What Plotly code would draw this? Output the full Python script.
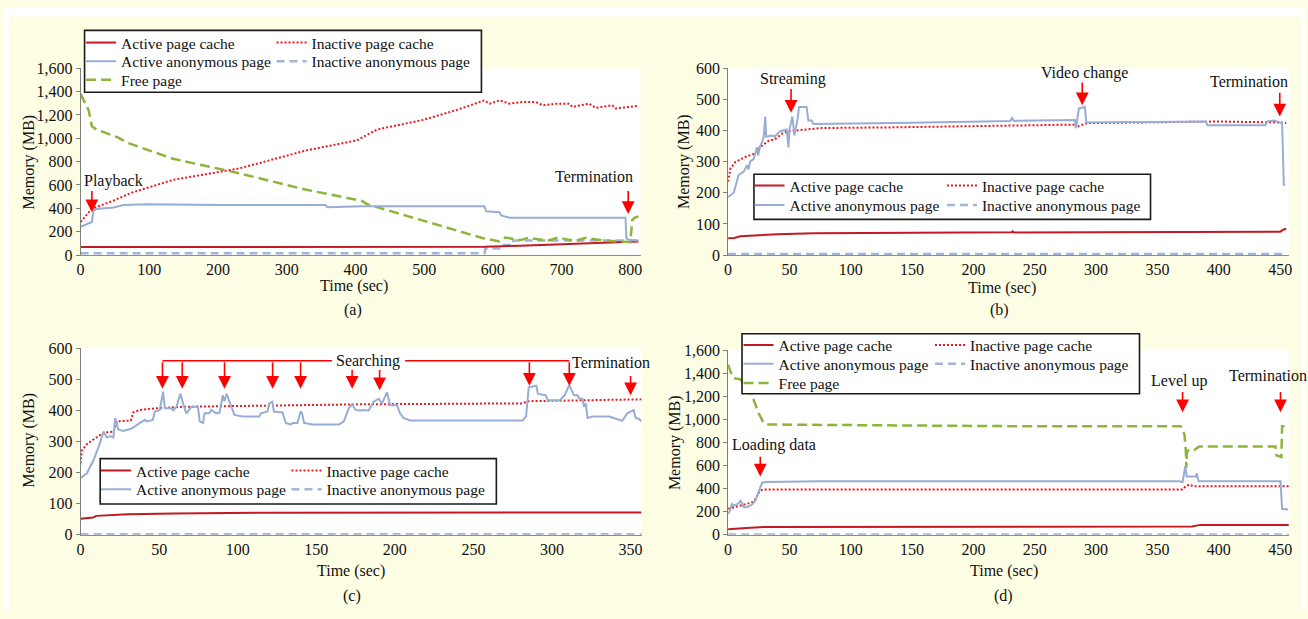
import plotly.graph_objects as go

W, H = 1308, 619
FONT = "Liberation Serif"
TXT = "#111111"

# ---------------- data (time in sec, memory in MB) ----------------
# panel (a) video playback
a_apc_t = [0, 588, 640, 700, 750, 800, 812]
a_apc_v = [69, 70, 80, 94, 103, 115, 115]
a_ipc_t = [0, 15.9, 47.8, 73.8, 134.6, 231.1, 327, 402.3, 431.3, 498.8, 547, 587.6, 595.2, 609.7,
           624.2, 643.6, 662.8, 672.5, 691.7, 711, 715.9, 740, 749.6, 773.8, 778.6, 812.3]
a_ipc_v = [283, 394, 466, 533, 644, 742, 894, 983, 1075, 1158, 1242, 1325, 1297, 1325,
           1297, 1311, 1311, 1283, 1297, 1297, 1269, 1297, 1261, 1283, 1256, 1278]
a_aap_t = [0, 11.6, 16.4, 18.8, 23, 48, 62.2, 96, 202, 356.4, 359, 409.6, 587.6, 590.4, 609.7,
           612, 624.2, 793, 794.5, 800, 812]
a_aap_v = [242, 269, 283, 381, 394, 408, 428, 436, 428, 428, 410, 417, 417, 375, 367,
           339, 320, 320, 140, 125, 125]
a_iap_t = [0, 588, 589, 612, 613, 629, 630, 812]
a_iap_v = [15, 15, 55, 55, 85, 85, 125, 125]
a_free_t = [0, 11.6, 16.4, 23.2, 55, 67, 134.6, 231.1, 327, 402.3, 409.6, 416.8, 498.8, 547,
            585.7, 609.7, 618, 640, 652, 680, 695, 720, 735, 760, 790, 800, 803, 806, 812]
a_free_v = [1381, 1242, 1103, 1075, 1006, 964, 825, 700, 561, 478, 464, 436, 297, 214,
            144, 117, 150, 128, 148, 122, 150, 120, 148, 125, 118, 110, 300, 318, 331]

# panel (b) video streaming
b_apc_t = [0, 5, 10, 20, 40, 70, 150, 231, 232, 233, 300, 400, 450, 453, 455]
b_apc_v = [54, 55, 60, 63, 67, 70, 72, 73, 76, 72, 73, 74, 75, 82, 85]
b_ipc_t = [0, 1.9, 5.9, 14, 20.8, 27.6, 33, 38, 44, 49, 55, 76, 130, 230, 282.7, 284, 286,
           293, 350, 400, 450, 455]
b_ipc_v = [236, 278, 299, 315, 325, 351, 367, 372, 390, 398, 400, 408, 410, 416, 419, 408, 415,
           424, 427, 429, 426, 424]
b_aap_t = [0, 4.6, 8.6, 12.7, 15.4, 16.5, 18, 20.8, 22.5, 23.5, 24.5, 26, 27.6, 29, 30.3, 31,
           35.7, 38, 42.4, 47.8, 49.2, 50, 52.4, 54, 56.8, 57.8, 64, 65.4, 68, 69.5, 150, 230,
           231.5, 233, 282.7, 283.5, 286, 290.8, 292, 389.5, 390.8, 438, 439.5, 444.9, 450,
           451.6, 453, 454.3]
b_aap_v = [186, 200, 257, 268, 289, 275, 300, 309, 330, 346, 320, 350, 361, 380, 445, 380,
           384, 381, 398, 403, 346, 403, 445, 384, 440, 476, 476, 432, 432, 421, 425, 431,
           440, 431, 434, 408, 471, 476, 426, 429, 417, 417, 429, 432, 426,
           424, 226, 226]
b_iap_t = [0, 25, 27, 455]
b_iap_v = [3, 5, 3, 3]

# panel (c) searching
c_apc_t = [0, 8, 10, 30, 60, 120, 357]
c_apc_v = [52, 56, 61, 66, 69, 71, 72]
c_ipc_t = [0, 0.8, 4, 11.4, 14.6, 21, 23, 32, 33.5, 37.8, 47.3, 65, 120, 179, 281, 285, 357]
c_ipc_v = [230, 271, 292, 318, 329, 332, 365, 368, 394, 402, 407, 412, 416, 420, 423, 430, 436]
c_aap_t = [0, 4, 8.2, 11.4, 14.6, 16.7, 18.8, 20.9, 22, 24, 27.2, 32.5, 37.8, 41, 42, 46, 47.3,
           50.4, 52.5, 53.6, 57.8, 59, 61, 63.5, 65.2, 67.3, 70.5, 74.7, 75.8, 77.9, 78.9, 82,
           83.1, 86.3, 88.4, 89.4, 90.5, 91.5, 93, 94.6, 97.9, 103, 113.7, 114.8, 119, 120, 122,
           123, 128.5, 130.6, 133.7, 135, 138, 140, 141, 142.2, 147.5, 164.4, 167.5, 170.7,
           172.8, 175, 178, 180, 183.3, 186.5, 189.7, 191.8, 195, 197, 201.3, 203.3, 205.5,
           209.7, 239, 281.4, 283.5, 285.2, 290, 291, 296, 297.3, 305, 308, 311, 314, 316.2,
           317.5, 319.4, 320.4, 321.5, 322.6, 325.7, 336.3, 344.7, 347.9, 352, 353.2, 355.3, 357]
c_aap_v = [183, 198, 240, 282, 332, 313, 318, 313, 376, 339, 334, 342, 360, 370, 365, 370, 397,
           402, 461, 407, 407, 400, 412, 454, 423, 391, 412, 412, 365, 360, 391, 391,
           402, 391, 393, 423, 449, 430, 454, 430, 386, 381, 381, 391, 397, 423, 428,
           397, 394, 360, 355, 360, 360, 397, 391, 360, 355, 355, 365, 407,
           420, 402, 400, 402, 400, 428, 438, 423, 459, 417, 417, 391, 376,
           368, 368, 368, 381, 475, 480, 454, 449, 433, 433, 449, 482, 449, 449,
           438, 438, 412, 423, 376, 381, 381, 367, 391, 402, 376, 373, 365]
c_iap_t = [0, 357]
c_iap_v = [2, 2]

# panel (d) game
d_apc_t = [0, 10, 15, 30, 100, 378, 385, 457]
d_apc_v = [48, 52, 60, 68, 70, 72, 86, 86]
d_ipc_t = [0, 5, 10, 19.5, 22.2, 26.2, 29, 370.5, 373, 376, 379, 384, 457]
d_ipc_v = [225, 239, 253, 281, 309, 385, 393, 393, 421, 435, 421, 421, 421]
d_aap_t = [0, 1, 3.2, 4.6, 8.6, 10, 11, 12.7, 15.4, 19.5, 22.2, 24.9, 27.6, 30.3, 76, 368,
           370.5, 372.7, 373.8, 381.4, 382, 383.5, 447.6, 450.3, 451.6, 456.5]
d_aap_v = [183, 197, 267, 253, 273, 295, 281, 239, 239, 262, 295, 379, 450, 458, 464, 464,
           455, 595, 505, 505, 533, 464, 464, 464, 225, 219]
d_iap_t = [0, 457]
d_iap_v = [3, 3]
d_free_t = [0, 3.2, 5.9, 10, 19.5, 24.9, 29, 33, 230, 369, 372, 373.2, 373.5, 374, 376, 380,
            382, 384, 446.2, 447, 451, 451.6, 457]
d_free_v = [1474, 1376, 1353, 1348, 1207, 1053, 969, 955, 941, 941, 871, 716, 580, 716, 740,
            735, 750, 764, 764, 688, 674, 941, 941]

# event markers: (time, arrow tip MB, arrow tail MB)
a_events = [(16.4, 367, 561), (797, 352, 561)]
b_events = [(51.3, 457, 538), (288.7, 481, 559), (449.7, 445, 526)]
c_search_t = [52.1, 64.7, 91.6, 122.2, 140, 172.8, 190.3, 285.6, 311]
c_search_tip = [470, 470, 470, 470, 470, 470, 465, 480, 480]
c_search_tail = [560, 560, 560, 560, 560, 535, 535, 560, 560]
c_events = [(350, 449, 516)]
d_events = [(26.2, 505, 688), (370.5, 1061, 1250), (450.3, 1061, 1250)]

# labels: (text, time, MB)
a_labels = [("Playback", 47.8, 637), ("Termination", 747, 669)]
b_labels = [("Streaming", 53, 567), ("Video change", 290.8, 586), ("Termination", 424.8, 558)]
c_labels = [("Searching", 183.2, 558), ("Termination", 337.3, 553)]
d_labels = [("Loading data", 37.3, 779), ("Level up", 367.5, 1330), ("Termination", 440.5, 1376)]

# ---------------- styles ----------------
C_APC = "#C21A22"
C_IPC = "#E8191F"
C_AAP = "#98ADD3"
C_IAP = "#A2B5D9"
C_FREE = "#8CB53A"
C_ARROW = "#FF0000"

SERIES = [
    ("Active page cache", dict(color=C_APC, width=2)),
    ("Inactive page cache", dict(color=C_IPC, width=2, dash="2px,2px")),
    ("Active anonymous page", dict(color=C_AAP, width=2)),
    ("Inactive anonymous page", dict(color=C_IAP, width=2.5, dash="8px,5px")),
    ("Free page", dict(color=C_FREE, width=2.5, dash="10px,5px")),
]
# legend slot (column, row) for each series index
SLOT = {0: (0, 0), 1: (1, 0), 2: (0, 1), 3: (1, 1), 4: (0, 2)}
DRAW_ORDER = [3, 0, 4, 1, 2]
LEG_FONT = 15.5


def px(x):
    return x / W


def py(y):
    return 1 - y / H


panels = [
    dict(sfx="", data=[(a_apc_t, a_apc_v), (a_ipc_t, a_ipc_v), (a_aap_t, a_aap_v), (a_iap_t, a_iap_v),
                       (a_free_t, a_free_v)],
         dom=(77, 640, 62, 254), xr=815, yr=1600, xd=100, yd=200,
         leg_x=(117.5, 309), leg_y=(35.7, 55, 74), box=(81, 23, 480, 86.7),
         ytitle=(25, 158), xtitle=(352, 285.5), cap=("(a)", 351, 310.5),
         events=a_events, labels=a_labels),
    dict(sfx="2", data=[(b_apc_t, b_apc_v), (b_ipc_t, b_ipc_v), (b_aap_t, b_aap_v), (b_iap_t, b_iap_v)],
         dom=(728, 1292, 62, 254), xr=457.3, yr=600, xd=50, yd=100,
         leg_x=(789.5, 983), leg_y=(182.7, 202.7), box=(754, 171, 1152.7, 217.3),
         ytitle=(683, 158), xtitle=(1003.5, 288.3), cap=("(b)", 1001, 310.5),
         events=b_events, labels=b_labels),
    dict(sfx="3", data=[(c_apc_t, c_apc_v), (c_ipc_t, c_ipc_v), (c_aap_t, c_aap_v), (c_iap_t, c_iap_v)],
         dom=(77, 641, 350, 541.7), xr=357, yr=600, xd=50, yd=100,
         leg_x=(132.5, 324), leg_y=(475.7, 495), box=(96.7, 463.3, 495, 510),
         ytitle=(25, 444), xtitle=(349, 579), cap=("(c)", 350, 605),
         events=c_events, labels=c_labels),
    dict(sfx="4", data=[(d_apc_t, d_apc_v), (d_ipc_t, d_ipc_v), (d_aap_t, d_aap_v), (d_iap_t, d_iap_v),
                        (d_free_t, d_free_v)],
         dom=(728, 1292, 351.7, 541.7), xr=457.3, yr=1600, xd=50, yd=200,
         leg_x=(778.5, 971), leg_y=(346.7, 366, 385.7), box=(742, 335, 1141.6, 396.7),
         ytitle=(674, 447), xtitle=(1005, 579.3), cap=("(d)", 1005, 605),
         events=d_events, labels=d_labels),
]

fig = go.Figure()
layout = dict(
    width=W, height=H, margin=dict(l=0, r=0, t=0, b=0),
    paper_bgcolor="#FEFEE4", plot_bgcolor="#FFFFFF",
    font=dict(family=FONT, size=16, color=TXT),
    showlegend=True,
)
shapes = []
annotations = []

# white border strips around the yellow panel
for (x0, y0, x1, y1) in [(0, 0, W, 9), (0, 0, 5, H), (1305, 0, W, H), (0, 618, W, H)]:
    shapes.append(dict(type="rect", xref="paper", yref="paper", x0=px(x0), x1=px(x1),
                       y0=py(y1), y1=py(y0), fillcolor="#FFFFFF", line=dict(width=0), layer="below"))


def text_ann(x, y, txt, xref="paper", yref="paper", angle=0):
    return dict(x=x, y=y, xref=xref, yref=yref, text=txt, showarrow=False, textangle=angle,
                xanchor="center", yanchor="middle", font=dict(family=FONT, size=16, color=TXT))


legend_count = 0
for p in panels:
    s = p["sfx"]
    xa, ya = "x" + s, "y" + s
    x0, x1, y0, y1 = p["dom"]
    layout["xaxis" + s] = dict(
        domain=[px(x0), px(x1)], range=[0, p["xr"]], anchor=ya, dtick=p["xd"], tick0=0,
        showline=True, linecolor="#8C8C8C", linewidth=1, ticks="", showgrid=False, zeroline=False,
        tickfont=dict(family=FONT, size=16, color=TXT))
    layout["yaxis" + s] = dict(
        domain=[py(y1), py(y0)], range=[0, p["yr"]], anchor=xa, dtick=p["yd"], tick0=0,
        tickformat=",d", showline=True, linecolor="#7F7F7F", linewidth=1, ticks="outside",
        ticklen=4, tickcolor="#7F7F7F", showgrid=False, zeroline=False,
        tickfont=dict(family=FONT, size=16, color=TXT))

    # traces with one legend per entry
    for idx in DRAW_ORDER:
        if idx >= len(p["data"]):
            continue
        t, v = p["data"][idx]
        name, line = SERIES[idx]
        legend_count += 1
        lname = "legend" if legend_count == 1 else "legend%d" % legend_count
        col, row = SLOT[idx]
        layout[lname] = dict(
            x=px(p["leg_x"][col] - 40), y=py(p["leg_y"][row] - 17.2), xanchor="left", yanchor="top",
            bgcolor="rgba(0,0,0,0)", borderwidth=0, itemwidth=30,
            font=dict(family=FONT, size=LEG_FONT, color=TXT))
        fig.add_trace(go.Scatter(x=t, y=v, mode="lines", name=name, line=line,
                                 xaxis=xa, yaxis=ya, legend=lname, hoverinfo="skip"))

    # legend frame
    bx0, by0, bx1, by1 = p["box"]
    shapes.append(dict(type="rect", xref="paper", yref="paper", x0=px(bx0), x1=px(bx1),
                       y0=py(by1), y1=py(by0), fillcolor="#FFFFFF",
                       line=dict(color="#1A1A1A", width=1.6), layer="above"))

    # event arrows
    for (t, tip, tail) in p["events"]:
        annotations.append(dict(x=t, y=tip, ax=t, ay=tail, xref=xa, yref=ya, axref=xa, ayref=ya,
                                text="", showarrow=True, arrowhead=2, arrowsize=1.6, arrowwidth=1.6,
                                arrowcolor=C_ARROW, standoff=0))
    for (txt, t, v) in p["labels"]:
        annotations.append(text_ann(t, v, txt, xref=xa, yref=ya))

    # axis titles and caption
    annotations.append(text_ann(px(p["ytitle"][0]), py(p["ytitle"][1]), "Memory (MB)", angle=-90))
    annotations.append(text_ann(px(p["xtitle"][0]), py(p["xtitle"][1]), "Time (sec)"))
    cap, cx, cy = p["cap"]
    annotations.append(text_ann(px(cx), py(cy), cap))

# searching bracket in panel (c)
for (t, tip, tail) in zip(c_search_t, c_search_tip, c_search_tail):
    annotations.append(dict(x=t, y=tip, ax=t, ay=tail, xref="x3", yref="y3", axref="x3", ayref="y3",
                            text="", showarrow=True, arrowhead=2, arrowsize=1.6, arrowwidth=1.6,
                            arrowcolor=C_ARROW, standoff=0))
bracket_y = max(c_search_tail)
shapes.append(dict(type="line", xref="x3", yref="y3", x0=c_search_t[0], x1=160, y0=bracket_y, y1=bracket_y,
                   line=dict(color=C_ARROW, width=1.6), layer="above"))
shapes.append(dict(type="line", xref="x3", yref="y3", x0=206.5, x1=c_search_t[-1], y0=bracket_y, y1=bracket_y,
                   line=dict(color=C_ARROW, width=1.6), layer="above"))

layout["shapes"] = shapes
layout["annotations"] = annotations
fig.update_layout(**layout)
fig.write_html("out.html", config={"displayModeBar": False},
               post_script="document.body.style.margin='0';document.body.style.overflow='hidden';")
